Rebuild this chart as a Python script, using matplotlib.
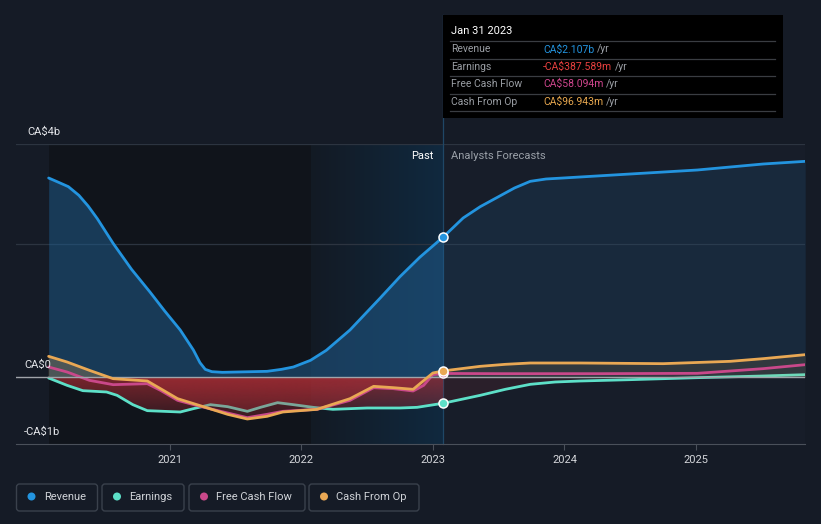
import numpy as np
import matplotlib
matplotlib.use('Agg')
import matplotlib.pyplot as plt
from matplotlib.colors import to_rgb, LinearSegmentedColormap
from matplotlib.patches import Rectangle, FancyBboxPatch, Circle
from matplotlib.lines import Line2D
from matplotlib.transforms import IdentityTransform

plt.rcParams['font.family'] = ['Roboto', 'DejaVu Sans']

# values in CA$ billions, x in decimal years
rev_x = [2020.08, 2020.15, 2020.23, 2020.31, 2020.38, 2020.45, 2020.57, 2020.71, 2020.85, 2020.96,
         2021.08, 2021.18, 2021.23, 2021.27, 2021.32, 2021.40, 2021.74, 2021.85, 2021.94, 2022.07,
         2022.19, 2022.37, 2022.60, 2022.75, 2022.90, 2023.08, 2023.23, 2023.36, 2023.49, 2023.62,
         2023.74, 2023.86, 2023.99, 2024.50, 2025.01, 2025.51, 2025.83]
rev_y = [2.99, 2.93, 2.86, 2.73, 2.57, 2.38, 2.01, 1.62, 1.28, 1.00,
         0.71, 0.41, 0.22, 0.12, 0.085, 0.075, 0.09, 0.12, 0.155, 0.255,
         0.405, 0.71, 1.19, 1.51, 1.80, 2.107, 2.39, 2.56, 2.70, 2.84,
         2.94, 2.975, 2.99, 3.05, 3.11, 3.20, 3.24]

ear_x = [2020.08, 2020.22, 2020.34, 2020.52, 2020.60, 2020.72, 2020.83, 2021.08, 2021.18, 2021.31,
         2021.44, 2021.59, 2021.69, 2021.82, 2021.94, 2022.09, 2022.24, 2022.50, 2022.75, 2022.88,
         2023.08, 2023.36, 2023.55, 2023.74, 2023.93, 2024.12, 2024.50, 2025.01, 2025.51, 2025.83]
ear_y = [-0.01, -0.12, -0.20, -0.22, -0.27, -0.41, -0.50, -0.52, -0.47, -0.41,
         -0.44, -0.51, -0.45, -0.38, -0.41, -0.45, -0.48, -0.46, -0.46, -0.45,
         -0.388, -0.27, -0.18, -0.105, -0.07, -0.055, -0.035, -0.005, 0.02, 0.04]

fcf_x = [2020.08, 2020.22, 2020.39, 2020.57, 2020.83, 2020.93, 2021.06, 2021.23, 2021.44, 2021.59,
         2021.74, 2021.86, 2022.12, 2022.37, 2022.55, 2022.70, 2022.85, 2022.93, 2023.00, 2023.08,
         2023.51, 2024.27, 2025.01, 2025.26, 2025.51, 2025.83]
fcf_y = [0.155, 0.08, -0.045, -0.11, -0.095, -0.195, -0.345, -0.435, -0.535, -0.605,
         -0.555, -0.51, -0.48, -0.345, -0.155, -0.17, -0.205, -0.12, 0.04, 0.058,
         0.055, 0.055, 0.06, 0.095, 0.13, 0.19]

cfo_x = [2020.08, 2020.22, 2020.39, 2020.57, 2020.83, 2020.93, 2021.06, 2021.28, 2021.44, 2021.59,
         2021.74, 2021.86, 2022.12, 2022.37, 2022.55, 2022.70, 2022.85, 2023.00, 2023.08, 2023.36,
         2023.55, 2023.74, 2024.12, 2024.75, 2025.26, 2025.51, 2025.83]
cfo_y = [0.315, 0.23, 0.105, -0.02, -0.055, -0.17, -0.32, -0.455, -0.555, -0.625,
         -0.585, -0.52, -0.48, -0.32, -0.135, -0.155, -0.18, 0.065, 0.097, 0.165,
         0.195, 0.215, 0.215, 0.205, 0.24, 0.28, 0.34]

now_x = 2023.077
hl_start = 2022.074
years = [2021, 2022, 2023, 2024, 2025]

c_rev = '#2394df'
c_ear = '#5de0c8'
c_fcf = '#c9488a'
c_cfo = '#e9a854'
c_red = '#b83038'
bg = '#151b26'

W, H = 821, 524
fig = plt.figure(figsize=(W / 100, H / 100), dpi=100, facecolor=bg)
ax = fig.add_axes([16 / W, 80 / H, 789 / W, 300 / H])
ax.set_facecolor('none')
ax.set_xlim(2019.832, 2025.828)
ax.set_ylim(-1.0, 3.5)

# background bands
ax.axvspan(rev_x[0], hl_start, color='#10141b', lw=0, zorder=0.1)
cm = LinearSegmentedColormap.from_list('hl', ['#131a24', '#10293f'])
ax.imshow(np.linspace(0, 1, 256).reshape(1, -1), cmap=cm, aspect='auto',
          extent=[hl_start, now_x, -1.0, 3.5], zorder=0.2)
ax.axvspan(now_x, 2025.828, color='#171d29', lw=0, zorder=0.1)

for g in [2.0, 3.5]:
    ax.axhline(g, color='#2c3440', lw=0.9, zorder=0.5)


def grad_fill(x, y, alpha_top, alpha_bot, z):
    poly = ax.fill_between(x, y, 0, color='none', lw=0)
    path = poly.get_paths()[0]
    img = np.zeros((256, 1, 4))
    img[..., :3] = to_rgb(c_red)
    img[:, 0, 3] = np.linspace(alpha_top, alpha_bot, 256)
    im = ax.imshow(img, extent=[x[0], x[-1], -0.7, 0], aspect='auto', origin='upper', zorder=z)
    im.set_clip_path(path, transform=ax.transData)


i_rev = rev_x.index(2023.08)
i_ear = ear_x.index(2023.08)
i_cfo = cfo_x.index(2023.08)
i_fcf = fcf_x.index(2023.08)

line_kw = dict(lw=2, solid_capstyle='round', solid_joinstyle='round')

# revenue area
ax.fill_between(rev_x[:i_rev + 1], rev_y[:i_rev + 1], 0, color='#1f5a8a', alpha=0.55, lw=0, zorder=1)
ax.fill_between(rev_x[i_rev:], rev_y[i_rev:], 0, color='#1f5a8a', alpha=0.2, lw=0, zorder=1)

# earnings area and line
grad_fill(ear_x[:i_ear + 1], ear_y[:i_ear + 1], 0.62, 0.15, 1.5)
ax.fill_between(ear_x[i_ear:], ear_y[i_ear:], 0, color=c_red, alpha=0.12, lw=0, zorder=1.5)
ax.plot(ear_x, ear_y, color=c_ear, zorder=2, **line_kw)

# cash flow areas
cx, cy = np.asarray(cfo_x), np.asarray(cfo_y)
grad_fill(cfo_x[:i_cfo + 1], cfo_y[:i_cfo + 1], 0.45, 0.25, 2.5)
ax.fill_between(cx[:i_cfo + 1], cy[:i_cfo + 1], 0, where=cy[:i_cfo + 1] >= 0, interpolate=True,
                color=c_cfo, alpha=0.25, lw=0, zorder=2.5)
ax.fill_between(cx[i_cfo:], cy[i_cfo:], 0, color=c_cfo, alpha=0.12, lw=0, zorder=2.5)

ax.plot(fcf_x, fcf_y, color=c_fcf, zorder=3, **line_kw)
ax.plot(cfo_x, cfo_y, color=c_cfo, zorder=3.5, **line_kw)

ax.axhline(0, color='#a0a4aa', lw=1, zorder=3.2)

ax.plot(rev_x, rev_y, color=c_rev, zorder=4, **line_kw)

# current markers
ax.axvline(now_x, ymin=0, ymax=(444 - 15) / 300, color='#1f4766', lw=0.9, zorder=0.6, clip_on=False)
for v, c in [(fcf_y[i_fcf], c_fcf), (cfo_y[i_cfo], c_cfo), (ear_y[i_ear], c_ear), (rev_y[i_rev], c_rev)]:
    ax.plot(now_x, v, 'o', ms=6.5, mfc=c, mec='white', mew=1.1, zorder=5, clip_on=False)

# axes styling
for s in ['top', 'right', 'left']:
    ax.spines[s].set_visible(False)
ax.spines['bottom'].set_color('#4a505a')
ax.set_yticks([])
ax.set_xticks(years)
ax.set_xticklabels([str(y) for y in years])
ax.tick_params(axis='x', colors='#4a505a', labelcolor='#d4d6da', length=4, width=0.8,
               labelsize=8, pad=4)

T = IdentityTransform()


def P(x, y):
    return x, H - y


def ftext(x, y, s, **kw):
    return fig.text(*P(x, y), s, transform=T, **kw)


ftext(27, 132, 'CA$4b', color='#e4e6ea', fontsize=8, va='center')
ftext(24, 365, 'CA$0', color='#e4e6ea', fontsize=8, va='center')
ftext(24, 432, '-CA$1b', color='#e4e6ea', fontsize=8, va='center')
ftext(434, 156, 'Past', color='#ffffff', fontsize=8, va='center', ha='right')
ftext(451, 156, 'Analysts Forecasts', color='#9aa0a8', fontsize=8, va='center')

# tooltip
fig.patches.append(Rectangle(P(443, 118), 340, 103, transform=T, facecolor='#000000',
                             edgecolor='none', zorder=10))
ftext(451, 31, 'Jan 31 2023', color='#ffffff', fontsize=8, va='center', zorder=11)
for yy in [41, 58.5, 76, 93.5, 111]:
    fig.lines.append(Line2D([450, 775], [H - yy, H - yy], transform=T, color='#3a3d42',
                            lw=0.9, zorder=11))
rows = [('Revenue', 'CA$2.107b', c_rev), ('Earnings', '-CA$387.589m', '#e8403f'),
        ('Free Cash Flow', 'CA$58.094m', '#d0468e'), ('Cash From Op', 'CA$96.943m', '#e8a84f')]
fig.canvas.draw()
for k, (lab, val, col) in enumerate(rows):
    yy = 49.5 + k * 17.4
    ftext(451, yy, lab, color='#9a9ea4', fontsize=7.5, va='center', zorder=11)
    t = ftext(543, yy, val, color=col, fontsize=7.5, va='center', zorder=11)
    bb = t.get_window_extent(renderer=fig.canvas.get_renderer())
    ftext(bb.x1 + 3, yy, '/yr', color='#9a9ea4', fontsize=7.5, va='center', zorder=11)

# legend
legend = [('Revenue', c_rev, 16.5, 97.5), ('Earnings', c_ear, 102, 184),
          ('Free Cash Flow', c_fcf, 189, 305), ('Cash From Op', c_cfo, 309, 419)]
for lab, col, x0, x1 in legend:
    fig.patches.append(FancyBboxPatch(P(x0, 511), x1 - x0, 27, transform=T,
                                      boxstyle='round,pad=0,rounding_size=3',
                                      facecolor='none', edgecolor='#3a414c', lw=1))
    fig.patches.append(Circle(P(x0 + 15, 496.5), 4, transform=T, facecolor=col, edgecolor='none'))
    ftext(x0 + 27.5, 496.5, lab, color='#d0d3d8', fontsize=8, va='center')

fig.savefig('out.png', dpi=100, facecolor=bg)
